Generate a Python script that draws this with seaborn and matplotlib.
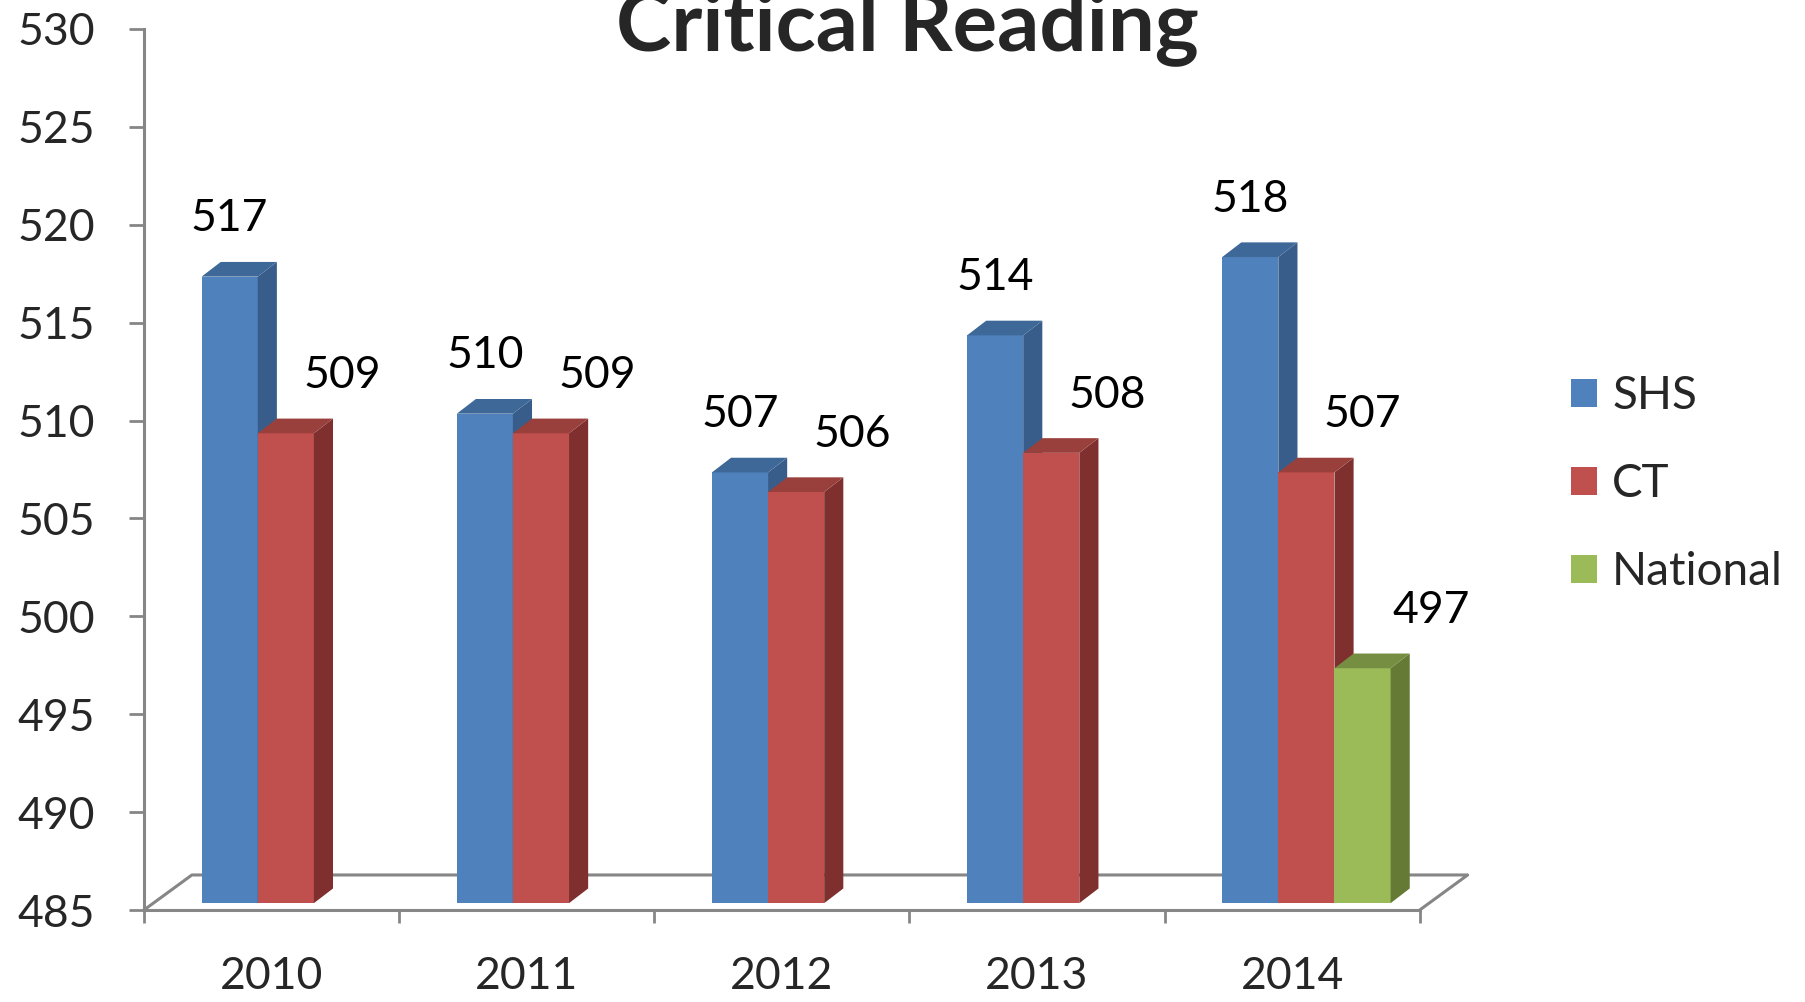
import matplotlib
matplotlib.use('Agg')
import matplotlib.pyplot as plt
from matplotlib.patches import Polygon, Patch
import numpy as np
import pandas as pd
import seaborn as sns

# data
years = ['2010', '2011', '2012', '2013', '2014']
series_names = ['SHS', 'CT', 'National']
shs = [517, 510, 507, 514, 518]
ct = [509, 509, 506, 508, 507]
national = [None, None, None, None, 497]

front_colors = ['#4F81BD', '#C0504D', '#9BBB59']
side_colors = ['#385D8A', '#7F2F2D', '#657A35']
top_colors = ['#3E6898', '#99403D', '#768E42']
label_dx = [0.0, 0.22, 0.27]   # data labels of CT/National sit to the right

BASE, TOP = 485, 530
DX, DY = 0.075, 0.75           # bar depth (category units, score units)
SHIFT_X, SHIFT_Y = 0.056, 0.35 # bars sit mid-way on the floor
FLOOR_DX, FLOOR_DY = 0.188, 1.79
GRAY = '#868686'

rows = []
for name, vals in zip(series_names, [shs, ct, national]):
    for y, v in zip(years, vals):
        if v is not None:
            rows.append({'year': y, 'series': name, 'score': v})
df = pd.DataFrame(rows)

sns.set_theme(style='white')
plt.rcParams['font.family'] = ['Lato', 'DejaVu Sans']

fig = plt.figure(figsize=(18.06, 10.02), dpi=100)
ax = fig.add_axes([0.0797, 0.0918, 0.7064, 0.8793])

sns.barplot(data=df, x='year', y='score', hue='series', order=years,
            hue_order=series_names, palette=front_colors, width=0.66,
            saturation=1, errorbar=None, legend=False, linewidth=0, ax=ax)
ax.set_xlim(-0.5, 4.5)
ax.set_ylim(BASE, TOP)

# collect bars, draw left to right so right-hand bars overlap their neighbours
bars = []
for i, cont in enumerate(ax.containers):
    for bar in cont:
        h = bar.get_height()
        if np.isnan(h):
            continue
        bars.append((bar.get_x(), i, bar, h))
bars.sort(key=lambda t: t[0])

for rank, (x, i, bar, value) in enumerate(bars):
    z = 3 + rank * 0.01
    w = bar.get_width()
    bar.set_x(x + SHIFT_X)
    bar.set_y(BASE + SHIFT_Y)
    bar.set_height(value - BASE)
    bar.set_zorder(z)
    x0 = x + SHIFT_X
    x1 = x0 + w
    y0 = BASE + SHIFT_Y
    y1 = value + SHIFT_Y
    side = Polygon([(x1, y0), (x1 + DX, y0 + DY), (x1 + DX, y1 + DY), (x1, y1)],
                   closed=True, facecolor=side_colors[i], edgecolor='none',
                   zorder=z, clip_on=False)
    top = Polygon([(x0, y1), (x1, y1), (x1 + DX, y1 + DY), (x0 + DX, y1 + DY)],
                  closed=True, facecolor=top_colors[i], edgecolor='none',
                  zorder=z, clip_on=False)
    ax.add_patch(side)
    ax.add_patch(top)
    ax.text(x0 + w / 2 + label_dx[i], value + 3.3, f'{int(value)}',
            ha='center', va='center', fontsize=32, color='black', zorder=10)

# floor of the 3D plot
fx = [-0.5, -0.5 + FLOOR_DX, 4.5 + FLOOR_DX, 4.5]
fy = [BASE, BASE + FLOOR_DY, BASE + FLOOR_DY, BASE]
ax.plot(fx, fy, color=GRAY, lw=2.2, zorder=1, clip_on=False)

ax.set_xticks(range(len(years)))
ax.set_xticklabels(years)
ax.set_xticks(np.arange(-0.5, len(years), 1), minor=True)
ax.tick_params(axis='x', which='major', length=0, pad=33, labelsize=32)
ax.tick_params(axis='x', which='minor', length=9, width=2, color=GRAY,
               direction='out', bottom=True)
ax.set_yticks(range(BASE, TOP + 1, 5))
ax.tick_params(axis='y', length=11, width=2, color=GRAY, pad=24,
               labelsize=32, left=True)
ax.set_xlabel('')
ax.set_ylabel('')

sns.despine(ax=ax)
for s in ['left', 'bottom']:
    ax.spines[s].set_color(GRAY)
    ax.spines[s].set_linewidth(2.2)

fig.text(0.5025, 0.950, 'Critical Reading', ha='center', va='baseline',
         fontsize=60, fontweight='bold')

handles = [Patch(facecolor=c, edgecolor='none') for c in front_colors]
fig.legend(handles, series_names, loc='center left',
           bbox_to_anchor=(1571 / 1806, 1 - 484 / 1002), frameon=False,
           fontsize=33, handlelength=0.56, handleheight=0.56,
           handletextpad=0.34, labelspacing=1.0, borderpad=0,
           borderaxespad=0)

fig.savefig('out.png', dpi=100)
